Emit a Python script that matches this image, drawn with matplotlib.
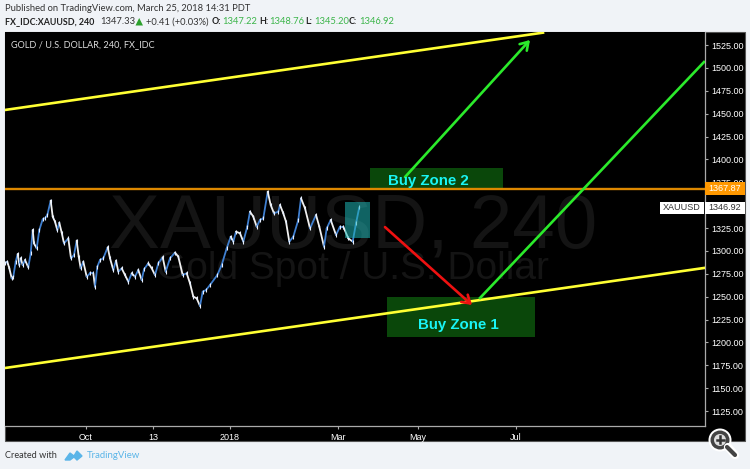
import matplotlib
matplotlib.use("Agg")
import matplotlib.pyplot as plt
from matplotlib.patches import Rectangle, Circle, Polygon

BG = "#f0f3f7"
bar_pos = [5,7.3,9.3,11.7,13.3,15.7,17.7,19.3,20.7,22.7,25,28.3,30.7,32.7,34,36.7,39.3,42.7,45,47.3,50.7,52.7,55,57.3,59.3,61.7,64,68.3,71,74,76.7,78.7,80.7,83.3,86.7,90,93.3,95,97.3,100,103.3,107.7,110,113.3,116,118.3,121.7,125,128.3,131.7,135,138.3,141.7,144,148.3,151.7,155,158.3,162.7,165.7,170,175,178.3,182.7,186.7,190,193.3,196.7,200,202.7,206,210,217.3,221.7,226.7,230.7,233.3,236,240,243.3,247.3,250,253.3,256.7,260,263.3,267.7,270.7,274,278.3,280,283.3,286,289.3,293.3,298.3,301,305,310,316,319.3,324,326.7,330.7,336,340,343.3,348.3,352.7,356,359.3]
prices = [1286.4,1288.2,1281,1270,1271.8,1288.2,1296.6,1284.6,1291.9,1284.6,1290,1282,1297.3,1322.8,1308.2,1302.8,1322.8,1334.5,1335.6,1339.2,1354.9,1337.4,1331.9,1322.8,1330.8,1319.9,1308.2,1313.7,1291.9,1295.5,1311.2,1293.7,1281,1288.2,1271.8,1275.5,1275.5,1260.9,1282.7,1290,1291.9,1303.9,1291.9,1279.1,1289.3,1277.3,1280.9,1273.6,1266.3,1275.5,1271.8,1279.1,1268.2,1279.8,1286.4,1281,1273.6,1286.4,1293,1277.3,1291.9,1298.1,1293.7,1273.6,1275.5,1264.5,1250,1248.1,1239.8,1255.4,1257.2,1262.7,1273.6,1284.6,1302.8,1315.5,1310.1,1321,1319.2,1310.1,1326.5,1342.9,1337.4,1326.5,1333.8,1335.6,1364.7,1350.1,1341,1342.9,1350.1,1341,1331.9,1310.1,1315.5,1333.8,1357.4,1346.5,1324.6,1339.2,1326.5,1304.6,1324.6,1333.8,1317.4,1326.5,1326.5,1313.7,1310.1,1330.1,1347.6]
x_tick_pos = [86,153,230,338,418,516]
x_tick_labels = ["Oct","13","2018","Mar","May","Jul"]
y_ticks = [1125,1150,1175,1200,1225,1250,1275,1300,1325,1375,1400,1425,1450,1475,1500,1525]
upper_channel_x, upper_channel_y = [5,543], [1454,1538.5]
lower_channel_x, lower_channel_y = [5,704], [1172,1281.3]
green_long_x, green_long_y = [480,704], [1248.5,1506.4]
green_short_x, green_short_y = [405,530], [1380.7,1530.5]
red_x, red_y = [385,472], [1326,1240.8]
resistance = 1367.87
last_price = 1346.92

W, H = 750, 469
plt.rcParams["font.family"] = ["Liberation Sans","DejaVu Sans"]
fig = plt.figure(figsize=(7.5,4.69), dpi=100, facecolor=BG)

bg = fig.add_axes([0,0,1,1], zorder=0)
bg.set_xlim(0,W); bg.set_ylim(H,0); bg.axis("off")
bg.add_patch(Rectangle((5,32),740,409,fc="black",ec="#555555",lw=0.8))
ff = "Lato"
fs = 6.75
bs = 6.4
bg.text(5,8.5,"Published on TradingView.com, March 25, 2018 14:31 PDT",fontsize=fs,family=ff,color="#333333",va="center")
bg.text(5,22,"FX_IDC:XAUUSD, 240",fontsize=bs,family=ff,weight="bold",color="#222222",va="center")
bg.text(100,22,"1347.33",fontsize=fs,family=ff,color="#333333",va="center")
bg.add_patch(Polygon([[135.5,25.5],[143,25.5],[139.2,18]],fc="#2ca02c",ec="none"))
bg.text(146,22,"+0.41 (+0.03%)",fontsize=fs,family=ff,color="#333333",va="center")
green="#3cb54a"
for xl,l,xv,v in [(212,"O:",222,"1347.22"),(259,"H:",269,"1348.76"),(305,"L:",314,"1345.20"),(349,"C:",359,"1346.92")]:
    bg.text(xl,22,l,fontsize=bs,family=ff,weight="bold",color="#222222",va="center")
    bg.text(xv,22,v,fontsize=fs,family=ff,color=green,va="center")
bg.text(5,456,"Created with",fontsize=6.6,family=ff,color="#333333",va="center")
bg.add_patch(Polygon([[65,460],[70,453],[74,456],[77,451],[82,456],[77,460],[74,457],[70,460]],fc="#5bb5e8",ec="#5bb5e8",lw=1))
bg.text(87,456,"TradingView",fontsize=6.9,family=ff,color="#5bb5e8",va="center")

ax = fig.add_axes([5/W,1-426/H,700/W,394/H],zorder=1,facecolor="black")
ax.set_xlim(5,705)
ax.set_ylim(1525-381/0.915,1525+13/0.915)
ax.text(353,1325,"XAUUSD, 240",fontsize=55,color="#141414",ha="center",va="center",zorder=1)
ax.text(353,1280,"Gold Spot / U.S. Dollar",fontsize=28,color="#141414",ha="center",va="center",zorder=1)

ax.add_patch(Rectangle((370,1368.7),133,21.9,fc="#0a470a",ec="none",zorder=2))
ax.add_patch(Rectangle((387,1205.9),148,43.7,fc="#0a470a",ec="none",zorder=2))
for i in range(len(prices)-1):
    up = prices[i+1] >= prices[i]
    ax.plot(bar_pos[i:i+2],prices[i:i+2],color="#3f7fd0" if up else "#f0f0f0",lw=1.3,zorder=3,solid_capstyle="round")
ax.plot(bar_pos,prices,ls="none",marker="|",ms=3.5,mew=0.8,color="#e8f0ff",zorder=3)
ax.add_patch(Rectangle((345,1314),25,39.4,fc="#1fb5b5",alpha=0.55,ec="none",zorder=4))

ax.plot(upper_channel_x,upper_channel_y,color="#ffff33",lw=1.9,zorder=5)
ax.plot(lower_channel_x,lower_channel_y,color="#ffff33",lw=1.9,zorder=5)
ax.axhline(resistance,color="#dd8800",lw=1.7,zorder=5)
ax.plot(green_long_x,green_long_y,color="#2bea2b",lw=1.9,zorder=6)
ax.annotate("",xy=(green_short_x[1],green_short_y[1]),xytext=(green_short_x[0],green_short_y[0]),
            arrowprops=dict(arrowstyle="->,head_length=0.55,head_width=0.35",color="#2bea2b",lw=1.9,shrinkA=0,shrinkB=0),zorder=6)
ax.annotate("",xy=(red_x[1],red_y[1]),xytext=(red_x[0],red_y[0]),
            arrowprops=dict(arrowstyle="->,head_length=0.55,head_width=0.35",color="#ee1111",lw=1.9,shrinkA=0,shrinkB=0),zorder=6)
ax.text(428,1376,"Buy Zone 2",color="#19f5f5",fontsize=10.8,weight="bold",ha="center",va="center",zorder=7)
ax.text(458,1219,"Buy Zone 1",color="#19f5f5",fontsize=10.8,weight="bold",ha="center",va="center",zorder=7)
ax.text(11,1525,"GOLD / U.S. DOLLAR, 240, FX_IDC",color="#dddddd",fontsize=6.6,family="Lato",va="center",zorder=7)

for s in ["top","left"]:
    ax.spines[s].set_visible(False)
for s in ["right","bottom"]:
    ax.spines[s].set_color("#aaaaaa"); ax.spines[s].set_linewidth(0.9)
ax.yaxis.tick_right()
ax.set_yticks(y_ticks,[f"{v:.2f}" for v in y_ticks])
ax.set_xticks(x_tick_pos,x_tick_labels)
ax.tick_params(axis="y",colors="#aaaaaa",labelcolor="white",length=2,width=0.8,labelsize=6.5,pad=2.5)
ax.tick_params(axis="x",colors="#aaaaaa",labelcolor="white",length=2,width=0.8,labelsize=6.5,pad=3)

top = fig.add_axes([0,0,1,1],zorder=3,facecolor="none")
top.set_xlim(0,W); top.set_ylim(H,0); top.axis("off")
top.add_patch(Rectangle((704.5,182),40.5,13,fc="#ff9800",ec="none"))
top.text(725,188.5,f"{resistance:.2f}",color="white",fontsize=6.5,ha="center",va="center")
top.add_patch(Rectangle((705,202),40,12,fc="white",ec="none"))
top.text(725,208,f"{last_price:.2f}",color="#333333",fontsize=6.5,ha="center",va="center")
top.add_patch(Rectangle((660,202),44,12,fc="white",ec="none"))
top.text(682,208,"XAUUSD",color="#333333",fontsize=6.5,ha="center",va="center")
top.plot([728,735],[447,455],color="white",lw=6,solid_capstyle="round")
top.add_patch(Circle((720,440),11.5,fc="white",ec="none"))
top.plot([727,735],[447,455],color="#444444",lw=3,solid_capstyle="round")
top.add_patch(Circle((720,440),9.5,fc="#444444",ec="none"))
top.add_patch(Circle((720,440),6,fc="#dddddd",ec="none"))
top.plot([716.5,723.5],[440,440],color="#333333",lw=1.8)
top.plot([720,720],[436.5,443.5],color="#333333",lw=1.8)
fig.savefig("out.png",dpi=100,facecolor=BG)
